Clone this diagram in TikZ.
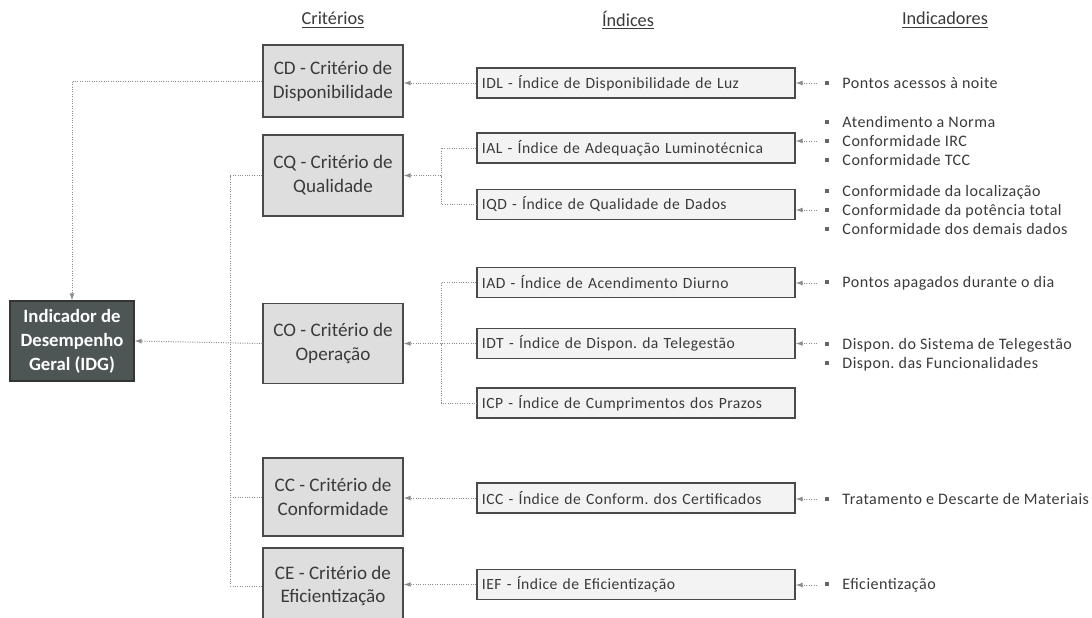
\documentclass[tikz,border=0pt]{standalone}
\usepackage{fontspec}
\setmainfont{Carlito}
\newfontfamily\wideface[LetterSpace=3]{Carlito}
\usetikzlibrary{arrows.meta}
\frenchspacing
\definecolor{idgfill}{HTML}{4E5555}
\definecolor{critfill}{HTML}{DEDEDE}
\definecolor{idxfill}{HTML}{F3F3F3}
\definecolor{boxline}{HTML}{4A4A4A}
\definecolor{linkgray}{HTML}{8C8C8C}
\definecolor{txtgray}{HTML}{3A3A3A}
\newcommand{\bul}{\textcolor{gray!80!black}{\rule[0.2em]{0.1cm}{0.1cm}}\hspace{0.33cm}}

\begin{document}
\begin{tikzpicture}[x=0.025cm,y=-0.025cm,
  idgbox/.style={draw=boxline!70!black,fill=idgfill,text=white,line width=0.8pt,
    minimum width=3.1cm,font=\fontsize{13.3}{17}\selectfont\bfseries,align=center,inner sep=1pt},
  critbox/.style={draw=boxline,fill=critfill,text=txtgray,line width=0.8pt,
    minimum width=3.5cm,font=\fontsize{13.6}{17}\selectfont,align=center,inner sep=1pt},
  idxbox/.style={draw=boxline,fill=idxfill,text=txtgray,line width=0.8pt,
    text width=7.7cm,inner xsep=0.125cm,minimum height=0.75cm,align=left,
    font=\wideface\fontsize{11.1}{13}\selectfont},
  indtxt/.style={anchor=west,align=left,text=txtgray,inner xsep=0.2cm,inner ysep=0pt,
    font=\wideface\fontsize{11.4}{13.6}\selectfont},
  header/.style={text=txtgray,font=\fontsize{13}{15}\selectfont},
  link/.style={draw=linkgray,densely dotted,line width=0.7pt},
  arr/.style={link,-{Latex[length=5pt,width=3.5pt]}}]
\useasboundingbox[fill=white] (0,0) rectangle (1092,618);

\node[header] (hcrit) at (333,20) {\underline{Critérios}};
\node[header] (hidx) at (628,20) {\underline{Índices}};
\node[header] (hind) at (945,20) {\underline{Indicadores}};

\node[idgbox,minimum height=2cm] (idg) at (72,341) {Indicador de\\Desempenho\\Geral (IDG)};

\node[critbox,minimum height=1.8cm] (cd) at (333,81) {CD - Critério de\\Disponibilidade};
\node[critbox,minimum height=2.025cm] (cq) at (333,175.5) {CQ - Critério de\\Qualidade};
\node[critbox,minimum height=2cm] (co) at (333,343.5) {CO - Critério de\\Operação};
\node[critbox,minimum height=1.95cm] (cc) at (333,497) {CC - Critério de\\Conformidade};
\node[critbox,minimum height=1.9cm] (ce) at (333,586) {CE - Critério de\\Eficientização};

\node[idxbox] (idl) at (636,83) {IDL - Índice de Disponibilidade de Luz};
\node[idxbox] (ial) at (636,148) {IAL - Índice de Adequação Luminotécnica};
\node[idxbox] (iqd) at (636,204.5) {IQD - Índice de Qualidade de Dados};
\node[idxbox] (iad) at (636,282.5) {IAD - Índice de Acendimento Diurno};
\node[idxbox] (idt) at (636,343.5) {IDT - Índice de Dispon. da Telegestão};
\node[idxbox] (icp) at (636,403) {ICP - Índice de Cumprimentos dos Prazos};
\node[idxbox] (icc) at (636,498) {ICC - Índice de Conform. dos Certificados};
\node[idxbox] (ief) at (636,584.5) {IEF - Índice de Eficientização};

\node[indtxt] (nidl) at (817,83) {\bul Pontos acessos à noite};
\node[indtxt] (nial) at (817,141) {\bul Atendimento a Norma\\\bul Conformidade IRC\\\bul Conformidade TCC};
\node[indtxt] (niqd) at (817,210) {\bul Conformidade da localização\\\bul Conformidade da potência total\\\bul Conformidade dos demais dados};
\node[indtxt] (niad) at (817,283) {\bul Pontos apagados durante o dia};
\node[indtxt,anchor=north west] (nidt) at (817,338) {\bul Dispon. do Sistema de Telegestão\\\bul Dispon. das Funcionalidades};
\node[indtxt] (nicc) at (817,499) {\bul Tratamento e Descarte de Materiais};
\node[indtxt] (nief) at (817,585) {\bul Eficientização};

\coordinate (qbus) at (441,175.5);
\coordinate (obus) at (441,343.5);

\draw[arr] (cd.west) -| (idg.north);
\draw[link] (cq.west) -- ++(-32,0) |- (ce.west);
\draw[link] (cc.west) -- ++(-32,0);
\draw[arr] (co.west) -- (idg.east);

\draw[arr] (idl.west) -- (idl.west -| cd.east);
\draw[link] (ial.west) -| (qbus) |- (iqd.west);
\draw[arr] (qbus) -- (cq.east);
\draw[link] (iad.west) -| (obus) |- (icp.west);
\draw[arr] (idt.west) -- (co.east);
\draw[arr] (icc.west) -- (icc.west -| cc.east);
\draw[arr] (ief.west) -- (ief.west -| ce.east);

\draw[arr] (nidl.west) -- (nidl.west -| idl.east);
\draw[arr] (nial.west) -- (nial.west -| ial.east);
\draw[arr] (niqd.west) -- (niqd.west -| iqd.east);
\draw[arr] (niad.west) -- (niad.west -| iad.east);
\draw[arr] (idt.east -| nidt.west) -- (idt.east);
\draw[arr] (nicc.west) -- (nicc.west -| icc.east);
\draw[arr] (nief.west) -- (nief.west -| ief.east);
\end{tikzpicture}
\end{document}
